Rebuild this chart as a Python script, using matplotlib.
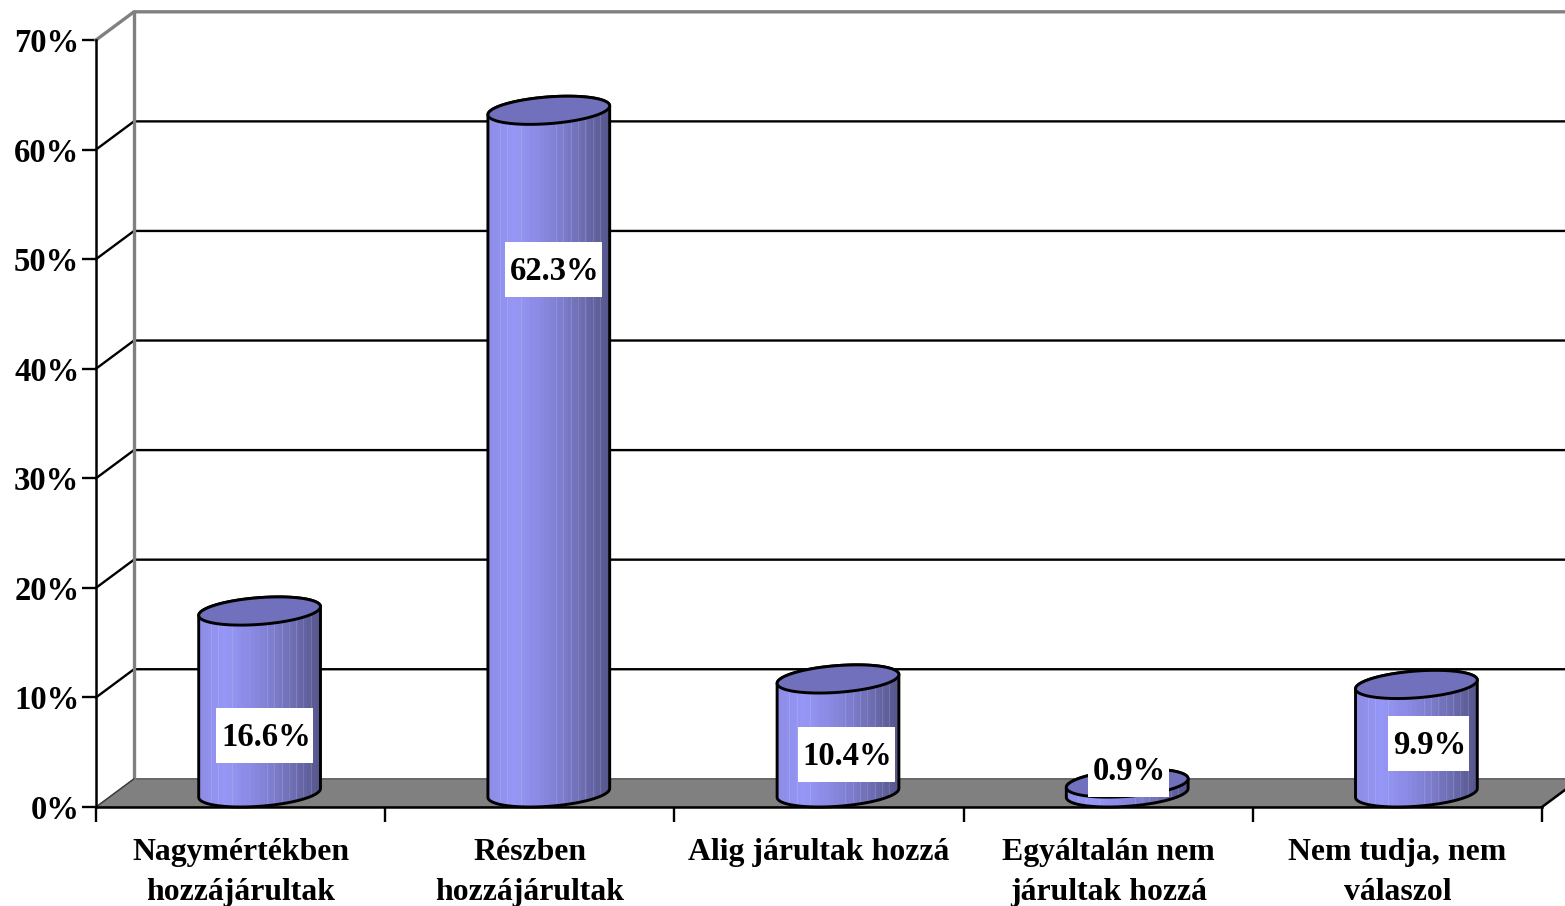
import numpy as np
import matplotlib
matplotlib.use("Agg")
import matplotlib.pyplot as plt
from matplotlib.colors import LinearSegmentedColormap
from matplotlib.patches import PathPatch, Polygon, Rectangle
from matplotlib.path import Path

categories = [
    "Nagymértékben\nhozzájárultak",
    "Részben\nhozzájárultak",
    "Alig járultak hozzá",
    "Egyáltalán nem\njárultak hozzá",
    "Nem tudja, nem\nválaszol",
]
values = [16.6, 62.3, 10.4, 0.9, 9.9]
y_ticks = [0, 10, 20, 30, 40, 50, 60, 70]

# where the data labels sit (they are not centred in the original)
label_dx = [0.017, 0.017, 0.028, 0.003, 0.041]
label_y = [6.5, 49.05, 4.78, 3.4, 5.82]

plt.rcParams["font.family"] = ["Liberation Serif", "DejaVu Serif"]
plt.rcParams["font.weight"] = "bold"

W, H = 1565, 906
fig = plt.figure(figsize=(W / 100, H / 100), dpi=100)
ax = fig.add_axes([96 / W, 1 - 807 / H, (1542 - 96) / W, (807 - 40) / H])

# fake 3d depth, in data units
depth_x = 38 / 289.2
depth_y = 28.2 / 10.96
half_w = 0.2

# floor
ax.add_patch(Polygon(
    [(0, 0), (5, 0), (5 + depth_x, depth_y), (depth_x, depth_y)],
    facecolor="#808080", edgecolor="#404040", linewidth=0.8,
    clip_on=False, zorder=1,
))

# walls and gridlines
for tick in y_ticks[1:]:
    color = "#808080" if tick == 70 else "black"
    lw = 2.4 if tick == 70 else 1.7
    ax.plot([0, depth_x, 5 + depth_x], [tick, tick + depth_y, tick + depth_y],
            color=color, linewidth=lw, clip_on=False, zorder=2)
ax.plot([depth_x, depth_x], [depth_y, 70 + depth_y], color="#808080",
        linewidth=2.4, clip_on=False, zorder=2)
ax.plot([0, depth_x], [0, depth_y], color="#404040", linewidth=1,
        clip_on=False, zorder=2)
ax.plot([5, 5 + depth_x], [0, depth_y], color="black", linewidth=1.8,
        clip_on=False, zorder=2)

bar_cmap = LinearSegmentedColormap.from_list(
    "bar", ["#8e8ee8", "#9696f6", "#8c8ce6", "#7e7ed0", "#6c6cb0", "#58588e"]
)


def ellipse(cx, cy, t):
    return (cx + half_w * np.cos(t) + depth_x / 2 * np.sin(t),
            cy + depth_y / 2 * np.sin(t))


t0 = np.arctan2(depth_x / 2, half_w)

for i, value in enumerate(values):
    cx = i + 0.5 + depth_x / 2
    base = depth_y / 2
    top = base + value

    # body outline: front half of the base, up the side, back over the top
    t_low = np.linspace(t0 + np.pi, t0 + 2 * np.pi, 60)
    t_up = np.linspace(t0, t0 + np.pi, 60)
    bx, by = ellipse(cx, base, t_low)
    tx, ty = ellipse(cx, top, t_up)
    verts = np.column_stack([np.r_[bx, tx], np.r_[by, ty]])
    body = PathPatch(Path(np.vstack([verts, verts[0]]), closed=True),
                     facecolor="none", edgecolor="black", linewidth=2.1,
                     transform=ax.transData, clip_on=False, zorder=4)
    ax.add_patch(body)

    extent_x = np.hypot(half_w, depth_x / 2)
    im = ax.imshow(
        np.linspace(0, 1, 26).reshape(1, -1), cmap=bar_cmap, aspect="auto",
        interpolation="nearest",
        extent=(cx - extent_x, cx + extent_x, base - depth_y, top + depth_y),
        zorder=3,
    )
    im.set_clip_box(fig.bbox)
    im.set_clip_path(body)

    # the pale seams between the colour bands of the original
    for frac in [0.1, 0.16, 0.27, 0.56, 0.62, 0.68, 0.74, 0.8, 0.86, 0.92]:
        seam = ax.axvline(cx - extent_x + 2 * extent_x * frac, color="white",
                          alpha=0.13, linewidth=0.8, zorder=3.5)
        seam.set_clip_box(fig.bbox)
        seam.set_clip_path(body)

    # top cap
    t_all = np.linspace(0, 2 * np.pi, 120)
    ex, ey = ellipse(cx, top, t_all)
    ax.add_patch(Polygon(np.column_stack([ex, ey]), closed=True,
                         facecolor="#7070bc", edgecolor="black", linewidth=2.1,
                         clip_on=False, zorder=5))

    # data label on a white box
    lx = cx + label_dx[i]
    box_w = 0.335 if value >= 10 else 0.28
    box_h = 55 / 10.96
    ax.add_patch(Rectangle((lx - box_w / 2, label_y[i] - box_h / 2), box_w, box_h,
                           facecolor="white", edgecolor="none",
                           clip_on=False, zorder=6))
    ax.text(lx + 0.005, label_y[i] - 0.17, f"{value:.1f}%", ha="center", va="center",
            fontsize=23.5, color="black", zorder=7)

ax.set_xlim(0, 5)
ax.set_ylim(0, 70)
ax.patch.set_visible(False)

ax.set_xticks(range(6))
ax.set_xticklabels([])
ax.set_xticks([i + 0.5 for i in range(5)], minor=True)
ax.set_xticklabels(categories, minor=True, fontsize=22.9, linespacing=1.5)
ax.tick_params(axis="x", which="minor", length=0, pad=22)
ax.tick_params(axis="x", which="major", length=11, width=1.7)

ax.set_yticks(y_ticks)
ax.set_yticklabels([f"{t}%" for t in y_ticks], fontsize=23.5)
ax.tick_params(axis="y", length=10, width=1.7, pad=2)

for side in ["top", "right"]:
    ax.spines[side].set_visible(False)
for side in ["left", "bottom"]:
    ax.spines[side].set_linewidth(1.8)
    ax.spines[side].set_zorder(3)

fig.savefig("out.png", dpi=100)
